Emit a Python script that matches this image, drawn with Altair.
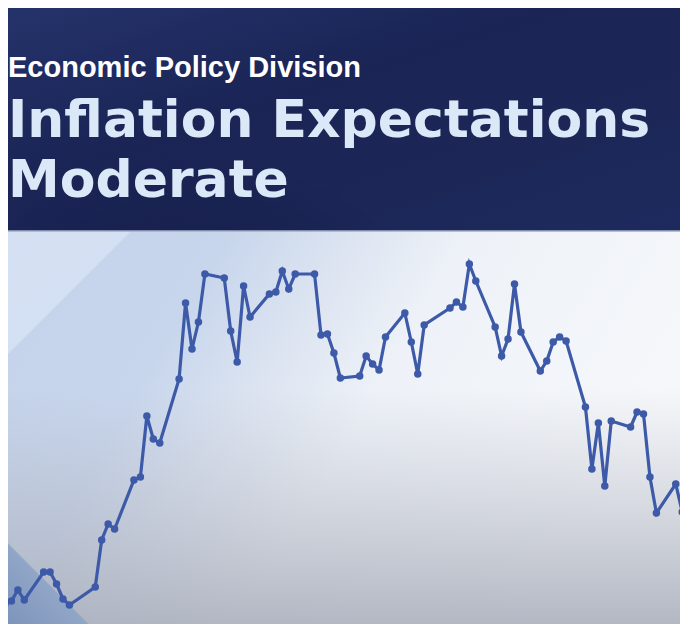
import altair as alt
import pandas as pd

# ---- data ----
period = [0, 1, 2, 3, 4, 7, 8, 9, 10, 11, 15, 16, 17, 18, 21, 22, 23, 24, 25,
          28, 29, 30, 31, 32, 35, 36, 37, 38, 39, 42, 43, 44, 45, 46, 49, 50,
          51, 52, 53, 56, 57, 58, 59, 60, 63, 64, 65, 66, 70, 71, 72, 73, 74,
          77, 78, 79, 80, 81, 84, 85, 86, 87, 88, 91, 92, 93, 94, 95, 98, 99,
          100, 101, 102, 105, 106, 107]
expectation = [2.00, 2.13, 2.16, 2.27, 2.17, 2.45, 2.45, 2.33, 2.18, 2.12,
               2.30, 2.77, 2.93, 2.88, 3.37, 3.40, 4.01, 3.78, 3.74,
               4.38, 5.14, 4.68, 4.95, 5.43, 5.39, 4.86, 4.55, 5.31, 5.00,
               5.23, 5.25, 5.46, 5.28, 5.43, 5.43, 4.82, 4.83, 4.64, 4.39,
               4.41, 4.61, 4.53, 4.47, 4.80, 5.04, 4.75, 4.43, 4.92,
               5.09, 5.15, 5.10, 5.53, 5.36, 4.90, 4.61, 4.78, 5.33, 4.85,
               4.46, 4.56, 4.75, 4.80, 4.76, 4.10, 3.48, 3.94, 3.31, 3.96,
               3.90, 4.05, 4.03, 3.40, 3.04, 3.33, 3.05, 3.02]

kicker = ["Economic Policy Division"]
title_lines = ["Inflation Expectations", "Moderate"]

W, H = 672, 616
HEADER_BOTTOM = 223

df = pd.DataFrame({"period": period, "value": expectation})
one = pd.DataFrame({"k": [0]})

xs = alt.Scale(domain=[1.473, 105.659], nice=False, zero=False)
ys = alt.Scale(domain=[1.93, 8.09], nice=False, zero=False)


def stop(c, o):
    return alt.GradientStop(color=c, offset=o)


# ---- header band ----
header = alt.Chart(one).mark_rect(
    fill=alt.LinearGradient(
        gradient="linear", x1=0, y1=0, x2=1, y2=1,
        stops=[stop("#25336b", 0), stop("#1a2455", 0.4),
               stop("#1c2758", 0.7), stop("#1e2a5d", 1)])
).encode(x=alt.value(0), x2=alt.value(W), y=alt.value(0), y2=alt.value(HEADER_BOTTOM))

header_dark = alt.Chart(one).mark_rect(
    fill=alt.RadialGradient(
        gradient="radial", x1=0.28, y1=1.0, r1=0, x2=0.28, y2=1.0, r2=0.45,
        stops=[stop("rgba(6,10,38,0.75)", 0), stop("rgba(6,10,38,0.35)", 0.5),
               stop("rgba(6,10,38,0)", 1)])
).encode(x=alt.value(0), x2=alt.value(W), y=alt.value(0), y2=alt.value(HEADER_BOTTOM))

header_line = alt.Chart(one).mark_rule(color="#a3adc8", strokeWidth=1.5).encode(
    x=alt.value(0), x2=alt.value(W), y=alt.value(HEADER_BOTTOM))

# ---- lower background ----
lower = alt.Chart(one).mark_rect(
    fill=alt.LinearGradient(
        gradient="linear", x1=0, y1=0, x2=1, y2=0.35,
        stops=[stop("#c3d2eb", 0), stop("#c8d6ec", 0.3), stop("#dfe6f2", 0.48),
               stop("#eef2f8", 0.62), stop("#f5f7fa", 1)])
).encode(x=alt.value(0), x2=alt.value(W), y=alt.value(HEADER_BOTTOM), y2=alt.value(H))

lower_gray = alt.Chart(one).mark_rect(
    fill=alt.LinearGradient(
        gradient="linear", x1=0, y1=0, x2=0, y2=1,
        stops=[stop("rgba(178,182,194,0)", 0), stop("rgba(178,182,194,0)", 0.4),
               stop("rgba(168,173,186,0.85)", 1)])
).encode(x=alt.value(0), x2=alt.value(W), y=alt.value(HEADER_BOTTOM), y2=alt.value(H))

corner_light = alt.Chart(one).mark_rect(
    fill=alt.LinearGradient(
        gradient="linear", x1=0, y1=0, x2=1, y2=1,
        stops=[stop("rgba(226,235,249,0.6)", 0), stop("rgba(226,235,249,0.5)", 0.5),
               stop("rgba(226,235,249,0)", 0.51), stop("rgba(226,235,249,0)", 1)])
).encode(x=alt.value(0), x2=alt.value(122), y=alt.value(HEADER_BOTTOM), y2=alt.value(HEADER_BOTTOM + 122))

corner_dark = alt.Chart(one).mark_rect(
    fill=alt.LinearGradient(
        gradient="linear", x1=0, y1=1, x2=1, y2=0,
        stops=[stop("#7d95bb", 0), stop("#91a6c7", 0.30),
               stop("rgba(145,166,199,0)", 0.31), stop("rgba(145,166,199,0)", 1)])
).encode(x=alt.value(0), x2=alt.value(132), y=alt.value(H - 132), y2=alt.value(H))

# ---- series ----
base = alt.Chart(df).encode(
    x=alt.X("period:Q", scale=xs, axis=None),
    y=alt.Y("value:Q", scale=ys, axis=None),
)
line = base.mark_line(color="#3d5aa9", strokeWidth=3.2, clip=True)
pts = base.mark_circle(color="#3d5aa9", size=56, opacity=1, clip=True)

# ---- texts ----
kick = alt.Chart(pd.DataFrame({"t": kicker})).mark_text(
    align="left", baseline="alphabetic", font="Liberation Sans", fontWeight="bold",
    fontSize=29, color="#ffffff"
).encode(x=alt.value(0), y=alt.value(69), text="t:N")

t1 = alt.Chart(pd.DataFrame({"t": [title_lines[0]]})).mark_text(
    align="left", baseline="alphabetic", font="DejaVu Sans", fontWeight="bold",
    fontSize=52, color="#dbe8f8"
).encode(x=alt.value(0), y=alt.value(129), text="t:N")

t2 = alt.Chart(pd.DataFrame({"t": [title_lines[1]]})).mark_text(
    align="left", baseline="alphabetic", font="DejaVu Sans", fontWeight="bold",
    fontSize=52, color="#dbe8f8"
).encode(x=alt.value(0), y=alt.value(189), text="t:N")

chart = alt.layer(
    header, header_dark, lower, lower_gray, corner_light, corner_dark, header_line,
    line, pts, kick, t1, t2
).properties(
    width=W, height=H, padding=0,
    autosize=alt.AutoSizeParams(type="none"),
    background="#ffffff",
).configure_view(stroke=None)

chart.save("out.html", embed_options={"renderer": "svg", "actions": False})
